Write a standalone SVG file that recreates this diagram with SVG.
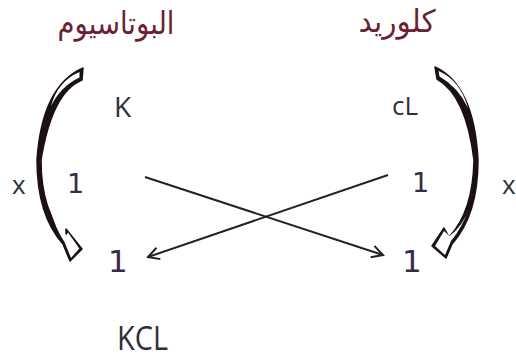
<svg xmlns="http://www.w3.org/2000/svg" width="516" height="358" viewBox="0 0 516 358">
<style>
.ar{font-family:"DejaVu Sans","Noto Sans",sans-serif;font-size:31px;fill:#6a1f33}
.lt{font-family:"Open Sans","Noto Sans",sans-serif;fill:#2f2f3a}
.num{font-family:"DejaVu Sans",sans-serif;fill:#3a2a48}
.curve{fill:#1a1016;stroke:#1a1016;stroke-width:1.5;stroke-linejoin:round}
.hole{fill:#fff;stroke:none}
.ln{stroke:#222;stroke-width:2;fill:none}
</style>
<defs>
<marker id="ah" markerWidth="14" markerHeight="14" refX="12" refY="7" orient="auto" markerUnits="userSpaceOnUse">
<path d="M1,1 L12,7 L1,13" fill="none" stroke="#222" stroke-width="2"/>
</marker>
</defs>
<g id="label-potassium"><text class="ar" x="116" y="34" text-anchor="middle" direction="rtl" textLength="117" lengthAdjust="spacingAndGlyphs">البوتاسيوم</text></g>
<g id="label-chloride"><text class="ar" x="397" y="32" text-anchor="middle" direction="rtl" textLength="77" lengthAdjust="spacingAndGlyphs">كلوريد</text></g>
<g id="node-K"><text class="lt" x="114" y="117" font-size="28">K</text></g>
<g id="node-cL"><text class="lt" x="392" y="115" font-size="26">cL</text></g>
<g id="node-x-left"><text class="lt" x="12" y="194" font-size="26">x</text></g>
<g id="node-x-right"><text class="lt" x="502" y="194" font-size="26">x</text></g>
<g id="node-1-topleft"><text class="num" x="67" y="193" font-size="27">1</text></g>
<g id="node-1-topright"><text class="num" x="412" y="192" font-size="27">1</text></g>
<g id="node-1-bottomleft"><text class="num" x="108" y="272" font-size="31">1</text></g>
<g id="node-1-bottomright"><text class="num" x="402" y="272" font-size="31">1</text></g>
<g id="node-KCL"><text class="lt" x="117" y="350" font-size="32" textLength="51" lengthAdjust="spacingAndGlyphs">KCL</text></g>
<g id="connectors">
<g id="curve-left">
<path class="curve" d="M83,68 L82,80 Q52,92 41,160 Q41,212 66,237 L66,229 L82,249 L70,261 L63,244 Q37,215 37,160 Q42,86 83,68 Z"/>
<path class="hole" d="M79.5,72 L79.5,77.5 Q61,86 51,106 Q58,81 79.5,72 Z"/>
<path class="hole" d="M50,208 Q56,226 66.5,235 L68,232.5 L79.3,248.5 L71,258 L64.5,242 Q55,228 50,208 Z"/>
</g>
<g id="curve-right">
<path class="curve" d="M435,67 L437,79 Q466,95 474,160 Q473,212 449,237 L444,228 L432,246 L446,258 L452,244 Q478,215 478,160 Q474,85 435,67 Z"/>
<path class="hole" d="M438.5,71 L439.5,76.5 Q458,87 468,108 Q460,80 438.5,71 Z"/>
<path class="hole" d="M469,208 Q463,226 449.5,236 L444,231 L435,246 L445,255 L451,241 Q462,228 469,208 Z"/>
</g>
<line class="ln" x1="145" y1="177" x2="383" y2="255" marker-end="url(#ah)"/>
<line class="ln" x1="388" y1="175" x2="148" y2="257" marker-end="url(#ah)"/>
</g>
</svg>
